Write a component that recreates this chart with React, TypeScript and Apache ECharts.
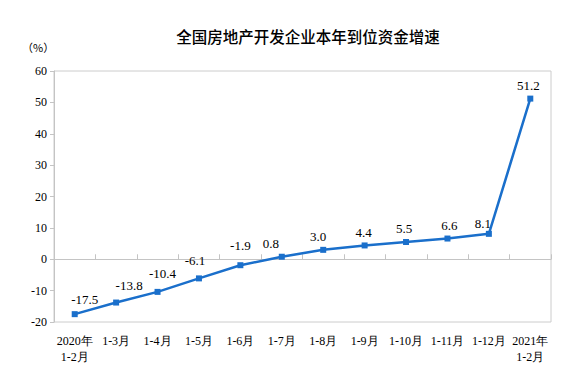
import React, { useEffect, useRef } from "react";
import * as echarts from "echarts";

const categories = ["2020年\n1-2月", "1-3月", "1-4月", "1-5月", "1-6月", "1-7月", "1-8月", "1-9月", "1-10月", "1-11月", "1-12月", "2021年\n1-2月"];
const values = [-17.5, -13.8, -10.4, -6.1, -1.9, 0.8, 3.0, 4.4, 5.5, 6.6, 8.1, 51.2];
const yTicks = { min: -20, max: 60, interval: 10 };

// label placement tweaks (style only), [dx, dy] per point
const labelOffsets: [number, number][] = [
  [10, 0], [13, -3], [5, -4], [-4, -3], [0, -5], [-11, 1],
  [-5, 1], [-1, 2], [-2, 1], [2, 1], [-6, 4], [-2, 1],
];

export default function App() {
  const ref = useRef<HTMLDivElement>(null);
  useEffect(() => {
    document.body.style.margin = "0";
    if (!ref.current) return;
    const chart = echarts.init(ref.current, null, { renderer: "svg" });
    const serif = "Liberation Serif";
    const lineColor = "#1a6fcb";
    chart.setOption({
      animation: false,
      backgroundColor: "#fff",
      title: {
        text: "全国房地产开发企业本年到位资金增速",
        left: 303,
        textAlign: "center",
        top: 23,
        textStyle: { fontSize: 15.5, fontWeight: 500, color: "#000", fontFamily: "Noto Sans CJK SC" },
      },
      graphic: [
        {
          type: "text",
          left: 22,
          top: 41,
          style: { text: "（%）", fontSize: 11, fill: "#000", fontFamily: "Noto Sans CJK SC" },
        },
        {
          type: "rect",
          shape: { x: 54, y: 71, width: 497, height: 251 },
          style: { fill: "none", stroke: "#cccccc", lineWidth: 1 },
          silent: true,
          z: -1,
        },
      ],
      grid: { left: 54, right: 29, top: 71, bottom: 48 },
      xAxis: {
        type: "category",
        data: categories,
        boundaryGap: true,
        axisLine: { show: true, lineStyle: { color: "#c4c4c4" } },
        axisTick: { show: true, inside: true, length: 5, lineStyle: { color: "#c4c4c4" } },
        axisLabel: { color: "#000", fontSize: 12, fontFamily: serif, interval: 0, margin: 11, lineHeight: 16 },
      },
      yAxis: {
        type: "value",
        min: yTicks.min,
        max: yTicks.max,
        interval: yTicks.interval,
        splitLine: { show: false },
        axisLine: { show: true, lineStyle: { color: "#c4c4c4" } },
        axisTick: { show: true, length: 4, lineStyle: { color: "#c4c4c4" } },
        axisLabel: { color: "#000", fontSize: 12, fontFamily: serif, margin: 7 },
      },
      series: [
        {
          type: "line",
          data: values.map((v, i) => ({ value: v, label: { offset: labelOffsets[i] } })),
          symbol: "rect",
          symbolSize: 6,
          lineStyle: { color: lineColor, width: 2.5 },
          itemStyle: { color: lineColor },
          label: {
            show: true,
            position: "top",
            distance: 5,
            color: "#000",
            fontSize: 13,
            fontFamily: serif,
            formatter: (p: any) => Number(p.value).toFixed(1),
          },
        },
      ],
    });
    return () => chart.dispose();
  }, []);
  return <div ref={ref} style={{ width: 580, height: 370 }} />;
}
